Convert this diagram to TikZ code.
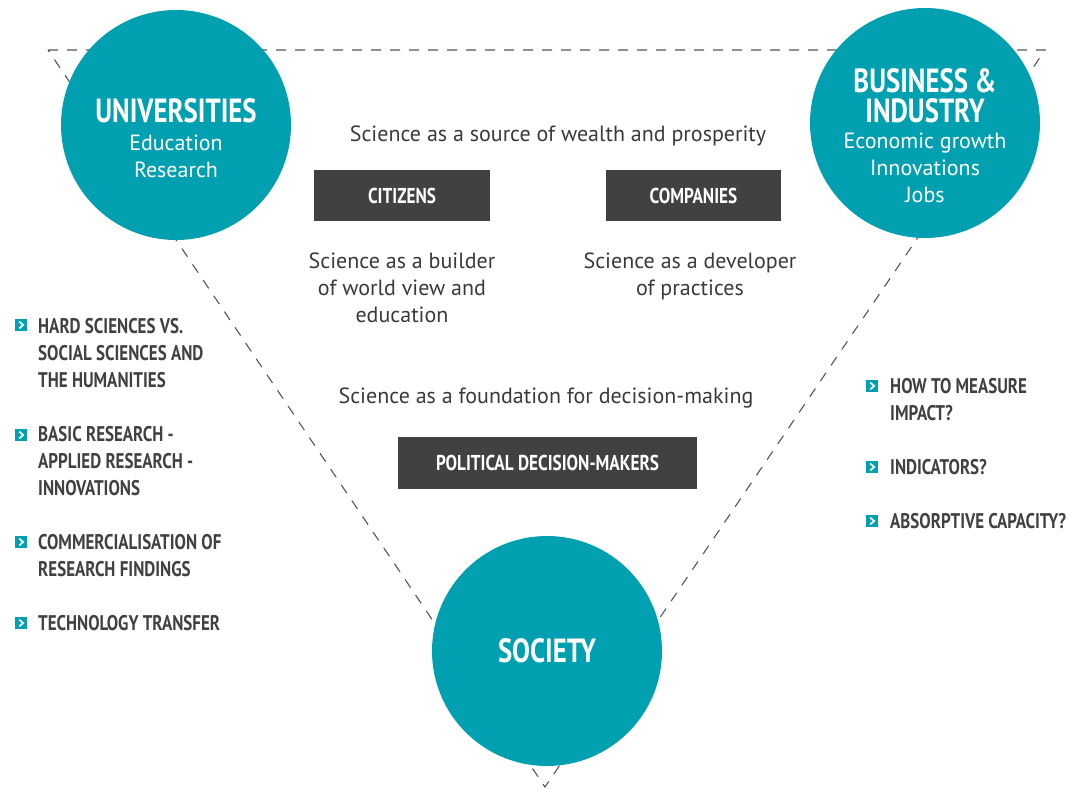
\documentclass[tikz,border=0pt]{standalone}
\usepackage{fontspec}
\setmainfont{PT Sans}
\newfontfamily\condf[FakeStretch=0.8]{PT Sans}
\definecolor{tealc}{HTML}{00A0B1}
\definecolor{boxgray}{HTML}{414042}
\definecolor{txtgray}{HTML}{3A3A3A}
\definecolor{listgray}{HTML}{414042}
\definecolor{dashgray}{HTML}{555555}
\tikzset{
  disc/.style={circle, fill=tealc, minimum size=230, inner sep=0},
  darkbox/.style={fill=boxgray, text=white, inner sep=0, font=\condf\bfseries\fontsize{21.5}{24}\selectfont},
  title/.style={text=white, font=\condf\bfseries\fontsize{33.5}{29}\selectfont, align=center, inner sep=0},
  sub/.style={text=white, font=\fontsize{22}{27}\selectfont, align=center, inner sep=0},
  body/.style={text=txtgray, font=\fontsize{22}{27}\selectfont, align=center, inner sep=0},
  item/.style={text=listgray, font=\condf\bfseries\fontsize{21.2}{27}\selectfont, align=left, inner sep=0, anchor=base west},
  dashline/.style={dashgray, line width=1.1, dash pattern=on 10 off 9},
  icon/.style={fill=tealc, minimum size=12.5, inner sep=0,
    path picture={\draw[white, line width=1.7]
      ([xshift=-1.8,yshift=3.4]path picture bounding box.center) --
      ([xshift=2.2]path picture bounding box.center) --
      ([xshift=-1.8,yshift=-3.4]path picture bounding box.center);}}
}
\begin{document}
\begin{tikzpicture}[x=1pt,y=-1pt]
\useasboundingbox (0,0) rectangle (1070,789);
% triangle
\coordinate (tl) at (48,50);
\coordinate (tr) at (1045,50);
\coordinate (bt) at (545,787);
\draw[dashline] (tl) -- (tr) -- (bt) -- cycle;
% circles
\node[disc] (uni) at (176,125) {};
\node[disc] (biz) at (925,123) {};
\node[disc] (soc) at (547,651) {};
% circle labels
\node[title] (unit) at (176,111) {UNIVERSITIES};
\node[sub, anchor=base] (unis) at (176,177) {Education\\Research};
\node[title, anchor=base] (bizt) at (925,122) {BUSINESS \&\\INDUSTRY};
\node[sub, anchor=base] (bizs) at (925,202) {Economic growth\\Innovations\\Jobs};
\node[title] (soct) at (547,651) {SOCIETY};
% boxes
\node[darkbox, minimum width=176, minimum height=51] (cit) at (402,195.5) {CITIZENS};
\node[darkbox, minimum width=175, minimum height=51] (com) at (693.5,195.5) {COMPANIES};
\node[darkbox, minimum width=299, minimum height=52] (pol) at (547.5,463) {POLITICAL DECISION-MAKERS};
% body texts
\node[body, anchor=base] (t1) at (558,141) {Science as a source of wealth and prosperity};
\node[body, anchor=base] (t2) at (402,322) {Science as a builder\\of world view and\\education};
\node[body, anchor=base] (t3) at (690,295) {Science as a developer\\of practices};
\node[body, anchor=base] (t4) at (546,403) {Science as a foundation for decision-making};
% left list
\node[icon] (i1) at (21,325) {};
\node[item] (l1) at (38,387) {HARD SCIENCES VS.\\SOCIAL SCIENCES AND\\THE HUMANITIES};
\node[icon] (i2) at (21,435) {};
\node[item] (l2) at (38,495) {BASIC RESEARCH -\\APPLIED RESEARCH -\\INNOVATIONS};
\node[icon] (i3) at (21,542) {};
\node[item] (l3) at (38,576) {COMMERCIALISATION OF\\RESEARCH FINDINGS};
\node[icon] (i4) at (21,623) {};
\node[item] (l4) at (38,630) {TECHNOLOGY TRANSFER};
% right list
\node[icon] (r1i) at (872,386) {};
\node[item] (r1) at (890,420) {HOW TO MEASURE\\IMPACT?};
\node[icon] (r2i) at (872,467) {};
\node[item] (r2) at (890,474) {INDICATORS?};
\node[icon] (r3i) at (872,521) {};
\node[item] (r3) at (890,528) {ABSORPTIVE CAPACITY?};
\end{tikzpicture}
\end{document}
